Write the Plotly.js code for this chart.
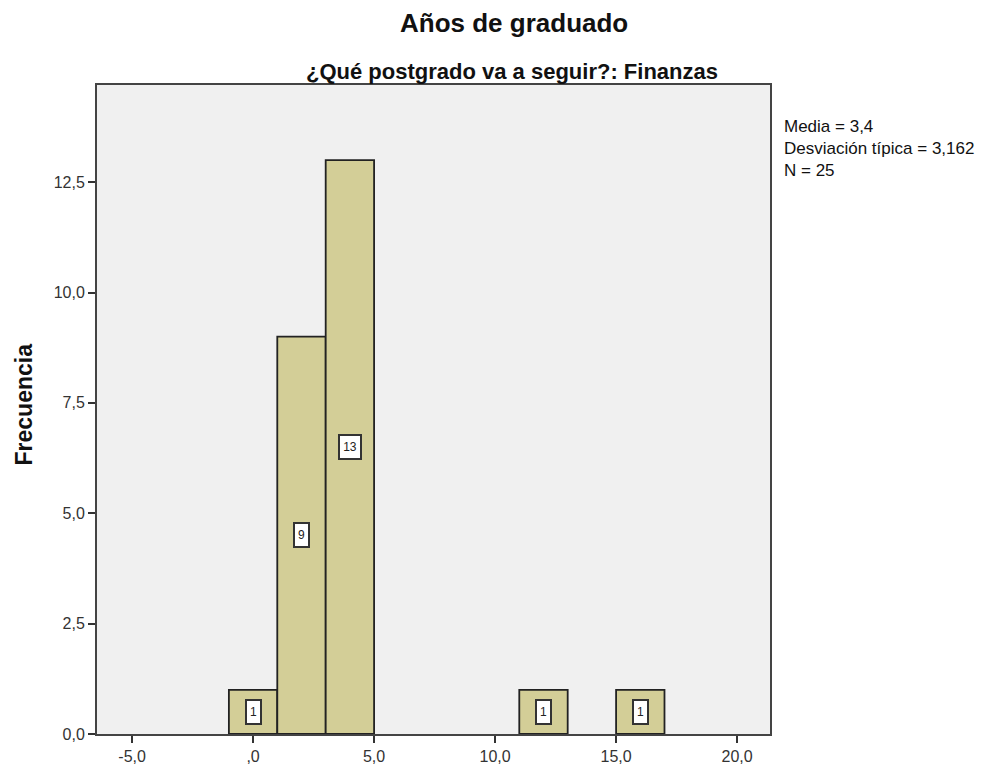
<!DOCTYPE html>
<html>
<head>
<meta charset="utf-8">
<script src="https://cdn.plot.ly/plotly-3.0.1.min.js"></script>
<style>html,body{margin:0;padding:0;background:#fff;}#chart{width:990px;height:767px;}</style>
</head>
<body>
<div id="chart"></div>
<script>
// Data
const binCenters = [0, 2, 4, 12, 16];
const frequencies = [1, 9, 13, 1, 1];
const binWidth = 2;
const xTickVals = [-5, 0, 5, 10, 15, 20];
const xTickText = ["-5,0", ",0", "5,0", "10,0", "15,0", "20,0"];
const yTickVals = [0, 2.5, 5, 7.5, 10, 12.5];
const yTickText = ["0,0", "2,5", "5,0", "7,5", "10,0", "12,5"];
const statsLines = ["Media = 3,4", "Desviación típica = 3,162", "N = 25"];

const trace = {
  type: 'bar',
  x: binCenters,
  y: frequencies,
  width: binCenters.map(() => binWidth),
  marker: {color: '#D3CE97', line: {color: '#222', width: 1.8}},
  hoverinfo: 'x+y'
};

const labelAnnotations = binCenters.map((c, i) => {
  const t = String(frequencies[i]);
  return {
    x: c, y: frequencies[i] / 2, xref: 'x', yref: 'y',
    text: t, showarrow: false,
    font: {family: 'Liberation Sans, Arial', size: 12, color: '#222'},
    width: 7 * t.length + 4, height: 20,
    bgcolor: '#ffffff', bordercolor: '#333', borderwidth: 2, borderpad: 1
  };
});

const layout = {
  width: 990, height: 767,
  paper_bgcolor: '#ffffff', plot_bgcolor: '#F0F0F0',
  margin: {l: 97, r: 220, t: 85, b: 33},
  showlegend: false,
  font: {family: 'Liberation Sans, Arial, sans-serif', size: 16, color: '#333'},
  xaxis: {
    range: [-6.45, 21.36], tickvals: xTickVals, ticktext: xTickText,
    showgrid: false, zeroline: false, showline: true, mirror: true,
    linecolor: '#444', linewidth: 2, ticks: 'outside', ticklen: 7, tickwidth: 2, tickcolor: '#333',
    tickfont: {size: 16, color: '#333'}
  },
  yaxis: {
    range: [0, 14.7], tickvals: yTickVals, ticktext: yTickText,
    showgrid: false, zeroline: false, showline: true, mirror: true,
    linecolor: '#444', linewidth: 2, ticks: 'outside', ticklen: 7, tickwidth: 2, tickcolor: '#333',
    tickfont: {size: 16, color: '#333'}
  },
  annotations: labelAnnotations.concat([
    {xref: 'paper', yref: 'paper', x: 1, xshift: 12, y: 1, yshift: -30,
     xanchor: 'left', yanchor: 'top', align: 'left',
     text: statsLines.join('<br>'), showarrow: false, font: {size: 17, color: '#111'}},
    {xref: 'paper', yref: 'paper', x: 0.5, xshift: 80, y: 1, yshift: 62, xanchor: 'center', yanchor: 'middle',
     text: '<b>Años de graduado</b>', showarrow: false, font: {size: 26, color: '#111'}},
    {xref: 'paper', yref: 'paper', x: 0.5, xshift: 78, y: 1, yshift: 14, xanchor: 'center', yanchor: 'middle',
     text: '<b>¿Qué postgrado va a seguir?: Finanzas</b>', showarrow: false, font: {size: 22, color: '#111'}},
    {xref: 'paper', yref: 'paper', x: 0, xshift: -74, y: 0.5, yshift: 5, xanchor: 'center', yanchor: 'middle',
     textangle: -90, text: '<b>Frecuencia</b>', showarrow: false, font: {size: 23, color: '#111'}}
  ])
};

Plotly.newPlot('chart', [trace], layout, {displayModeBar: false, staticPlot: true});
</script>
</body>
</html>
